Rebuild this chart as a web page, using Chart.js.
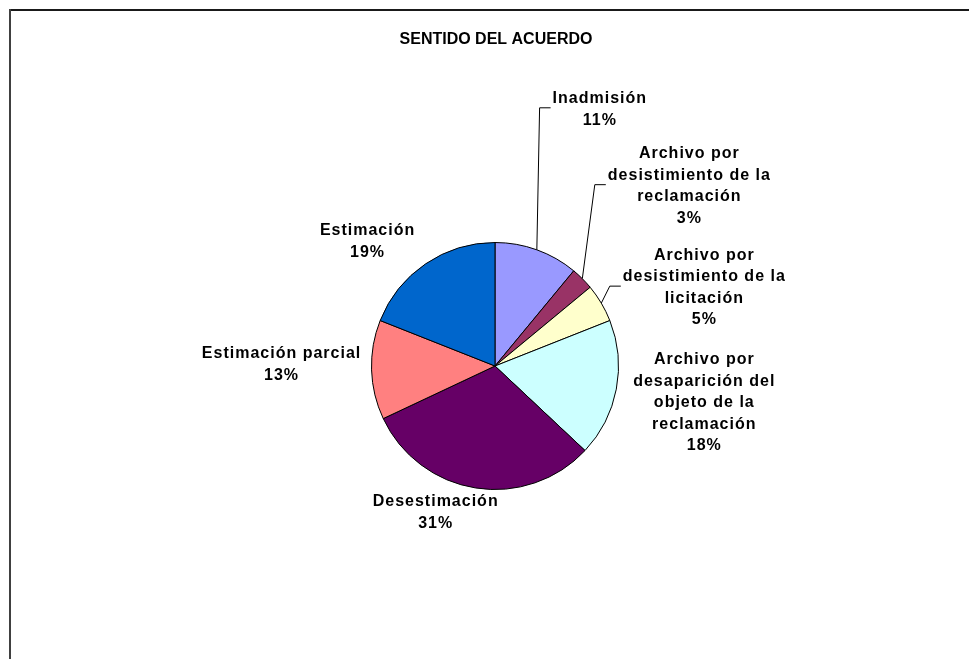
<!DOCTYPE html>
<html>
<head>
<meta charset="utf-8">
<script src="https://cdn.jsdelivr.net/npm/chart.js@4.4.0/dist/chart.umd.min.js"></script>
<style>
  body { margin: 0; background: #fff; }
  #wrap { position: relative; width: 969px; height: 659px; }
</style>
</head>
<body>
<div id="wrap"><canvas id="myChart" width="969" height="659"></canvas></div>
<script>
// Datos del grafico
const titulo = "SENTIDO DEL ACUERDO";
const categorias = [
    ["Inadmisión"],
    ["Archivo por", "desistimiento de la", "reclamación"],
    ["Archivo por", "desistimiento de la", "licitación"],
    ["Archivo por", "desaparición del", "objeto de la", "reclamación"],
    ["Desestimación"],
    ["Estimación parcial"],
    ["Estimación"]
];
const porcentajes = [11, 3, 5, 18, 31, 13, 19];
const colores = ["#9999FF", "#993366", "#FFFFCC", "#CCFFFF", "#660066", "#FF8080", "#0066CC"];

// Desplazamiento de cada etiqueta respecto al borde de su sector, y si lleva linea guia
const desplazEtiquetas = [[63, -142], [107, -94], [103, -17], [88, 12], [-40, 23], [-90, -7], [-58, -24]];
const lineaGuia = [true, true, true, false, false, false, false];

const FUENTE = "Liberation Sans, Arial, sans-serif";

// Plugin para el titulo, el marco y las etiquetas
const etiquetasPlugin = {
    id: "etiquetas",
    afterDraw(chart) {
        const ctx = chart.ctx;
        ctx.save();

        // marco (solo arriba e izquierda son visibles)
        ctx.lineWidth = 2;
        ctx.strokeStyle = "#1a1a1a";
        ctx.beginPath();
        ctx.moveTo(9, 10); ctx.lineTo(969, 10);
        ctx.stroke();
        ctx.strokeStyle = "#404040";
        ctx.beginPath();
        ctx.moveTo(10, 9); ctx.lineTo(10, 659);
        ctx.stroke();

        // titulo
        ctx.fillStyle = "#000";
        ctx.font = "bold 16px " + FUENTE;
        ctx.textAlign = "center";
        ctx.textBaseline = "alphabetic";
        ctx.letterSpacing = "0px";
        ctx.fillText(titulo, 496, 44);

        // etiquetas de datos
        const meta = chart.getDatasetMeta(0);
        ctx.font = "bold 16px " + FUENTE;
        ctx.letterSpacing = "1px";
        const altoLinea = 21.5;
        meta.data.forEach((arc, i) => {
            const p = arc.getProps(["x", "y", "startAngle", "endAngle", "outerRadius"], true);
            const medio = (p.startAngle + p.endAngle) / 2;
            const px = p.x + Math.cos(medio) * p.outerRadius;
            const py = p.y + Math.sin(medio) * p.outerRadius;
            const cx = px + desplazEtiquetas[i][0];
            const cy = py + desplazEtiquetas[i][1];
            const lineas = categorias[i].concat([porcentajes[i] + "%"]);
            const y0 = cy - (lineas.length - 1) * altoLinea / 2;
            let ancho = 0;
            lineas.forEach((t, k) => {
                ancho = Math.max(ancho, ctx.measureText(t).width);
                ctx.fillText(t, cx, y0 + k * altoLinea + 6);
            });
            if (lineaGuia[i]) {
                const izq = cx - ancho / 2 - 2;
                ctx.strokeStyle = "#000";
                ctx.lineWidth = 1;
                ctx.beginPath();
                ctx.moveTo(px, py);
                ctx.lineTo(izq - 11, cy);
                ctx.lineTo(izq, cy);
                ctx.stroke();
            }
        });
        ctx.restore();
    }
};

const context = document.getElementById("myChart");
new Chart(context, {
    type: "pie",
    data: {
        labels: categorias.map(c => c.join(" ")),
        datasets: [{
            data: porcentajes,
            backgroundColor: colores,
            borderColor: "#000",
            borderWidth: 1
        }]
    },
    options: {
        responsive: false,
        animation: false,
        layout: { padding: { left: 371, right: 350, top: 242, bottom: 169 } },
        plugins: {
            legend: { display: false },
            tooltip: { enabled: false },
            title: { display: false }
        }
    },
    plugins: [etiquetasPlugin]
});
</script>
</body>
</html>
